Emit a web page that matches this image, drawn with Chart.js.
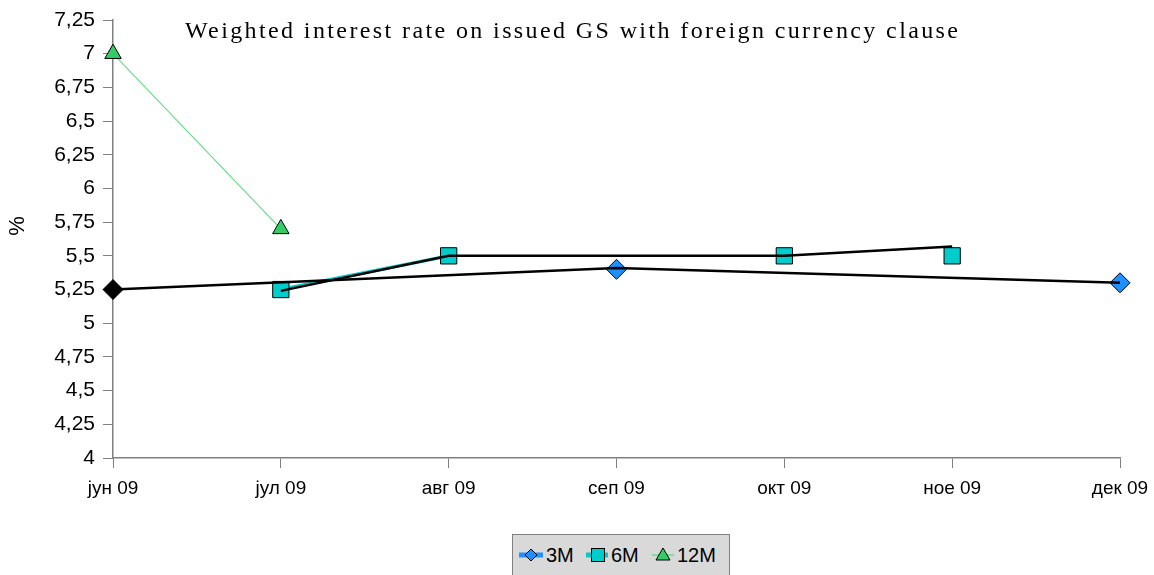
<!DOCTYPE html>
<html>
<head>
<meta charset="utf-8">
<script src="https://cdn.jsdelivr.net/npm/chart.js@4/dist/chart.umd.min.js"></script>
<style>
  body { margin: 0; background: #fff; }
  #wrap { position: relative; width: 1154px; height: 575px; overflow: hidden; }
  #chart { position: absolute; left: 0; top: 0; }
  #legend { position: absolute; left: 512px; top: 534px; width: 216px; height: 60px;
            background: #d9d9d9; border: 1px solid #808080;
            font-family: "Liberation Sans", Arial, sans-serif; font-size: 20px; color: #000; }
  #legend .item { position: absolute; top: 8px; height: 24px; display: flex; align-items: center; }
  #legend svg { margin-right: 3px; }
</style>
</head>
<body>
<div id="wrap">
  <canvas id="chart" width="1154" height="575"></canvas>
  <div id="legend">
    <div class="item" style="left:6px">
      <svg width="24" height="20"><line x1="0" y1="10" x2="24" y2="10" stroke="#1e90ff" stroke-width="5"/>
        <polygon points="12,4 18,10 12,16 6,10" fill="#1e90ff" stroke="#000" stroke-width="1"/></svg>3M</div>
    <div class="item" style="left:73px">
      <svg width="22" height="20"><line x1="0" y1="10" x2="22" y2="10" stroke="#00cccc" stroke-width="5"/>
        <rect x="5.5" y="3.5" width="13" height="13" fill="#00cccc" stroke="#000" stroke-width="1"/></svg>6M</div>
    <div class="item" style="left:139px">
      <svg width="22" height="20"><line x1="0" y1="10" x2="22" y2="10" stroke="#66dd88" stroke-width="1.5"/>
        <polygon points="11,3 18,15 4,15" fill="#33cc66" stroke="#000" stroke-width="1"/></svg>12M</div>
  </div>
</div>
<script>
// categories and values
var months = ['јун 09', 'јул 09', 'авг 09', 'сеп 09', 'окт 09', 'ное 09', 'дек 09'];
var rate3M  = [5.25, null, null, 5.40, null, null, 5.30];
var rate6M  = [null, 5.25, 5.50, null, 5.50, 5.50, null];
var rate12M = [7.00, 5.70, null, null, null, null, null];
// hand-drawn black guide lines
var guide3M = [5.25, null, null, 5.41, null, null, 5.30];
var guide6M = [null, 5.24, 5.50, null, 5.50, 5.57, null];
var titleText = 'Weighted interest rate on issued GS with foreign currency clause';
var yTitle = '%';

var textPlugin = {
  id: 'extraText',
  afterDraw: function (chart) {
    var ctx = chart.ctx;
    ctx.save();
    ctx.font = '24px "Liberation Serif", "Times New Roman", serif';
    ctx.fillStyle = '#000';
    ctx.letterSpacing = '0px';
    var w0 = ctx.measureText(titleText).width;
    var sp = (773 - w0) / (titleText.length - 1);
    ctx.letterSpacing = sp + 'px';
    ctx.textAlign = 'left';
    ctx.textBaseline = 'alphabetic';
    ctx.fillText(titleText, 185, 38);
    ctx.restore();

    ctx.save();
    ctx.font = '22px "Liberation Sans", Arial, sans-serif';
    ctx.fillStyle = '#000';
    ctx.translate(18, 226);
    ctx.rotate(-Math.PI / 2);
    ctx.textAlign = 'center';
    ctx.textBaseline = 'middle';
    ctx.fillText(yTitle, 0, 0);
    ctx.restore();
  }
};

var ctx = document.getElementById('chart').getContext('2d');
var chart = new Chart(ctx, {
  type: 'line',
  data: {
    labels: months,
    datasets: [{
      label: 'guide3M', data: guide3M, spanGaps: true,
      borderColor: '#000', borderWidth: 2.5, pointRadius: 0, order: 0
    }, {
      label: 'guide6M', data: guide6M, spanGaps: true,
      borderColor: '#000', borderWidth: 2.5, pointRadius: 0, order: 0
    }, {
      label: '3M', data: rate3M, spanGaps: false,
      borderColor: '#1e90ff', borderWidth: 3,
      pointStyle: 'rectRot', pointRadius: 10,
      pointBackgroundColor: ['#000', '#1e90ff', '#1e90ff', '#1e90ff', '#1e90ff', '#1e90ff', '#1e90ff'],
      pointBorderColor: '#000', pointBorderWidth: 1, order: 1
    }, {
      label: '6M', data: rate6M, spanGaps: false,
      borderColor: '#00cccc', borderWidth: 3.5,
      segment: { borderColor: function (c) { return c.p0DataIndex === 1 ? '#00cccc' : 'rgba(0,0,0,0)'; } },
      pointStyle: 'rect', pointRadius: 11.5,
      pointBackgroundColor: '#00cccc', pointBorderColor: '#000', pointBorderWidth: 1, order: 2
    }, {
      label: '12M', data: rate12M, spanGaps: false,
      borderColor: '#66dd88', borderWidth: 1.2,
      pointStyle: 'triangle', pointRadius: 9.5,
      pointBackgroundColor: '#33cc66', pointBorderColor: '#000', pointBorderWidth: 1, order: 1
    }]
  },
  options: {
    responsive: false,
    animation: false,
    layout: { padding: { left: 0, right: 34, top: 20, bottom: 77 } },
    plugins: { legend: { display: false }, tooltip: { enabled: false }, title: { display: false } },
    scales: {
      x: {
        offset: false,
        grid: { display: true, drawOnChartArea: false, drawTicks: true, tickLength: 10, color: '#808080', offset: false },
        border: { color: '#808080', width: 1.5 },
        ticks: { color: '#000', padding: 9, maxRotation: 0, autoSkip: false,
                 font: { family: '"Liberation Sans", Arial, sans-serif', size: 19 } },
        afterFit: function (s) { s.height = 40; s.paddingLeft = 0; s.paddingRight = 0; }
      },
      y: {
        min: 4, max: 7.25,
        grid: { display: true, drawOnChartArea: false, drawTicks: true, tickLength: 10, color: '#808080' },
        border: { color: '#808080', width: 1.5 },
        ticks: { stepSize: 0.25, color: '#000', padding: 8,
                 font: { family: '"Liberation Sans", Arial, sans-serif', size: 21 },
                 callback: function (v) { return String(Math.round(v * 100) / 100).replace('.', ','); } },
        afterFit: function (s) { s.width = 113; s.paddingTop = 0; s.paddingBottom = 0; }
      }
    }
  },
  plugins: [textPlugin]
});
</script>
</body>
</html>
